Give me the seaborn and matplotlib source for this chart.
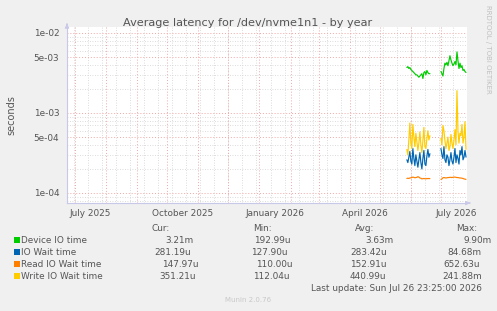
import pandas as pd
import matplotlib
matplotlib.use("Agg")
import matplotlib.pyplot as plt
from matplotlib.patches import Rectangle
from matplotlib.ticker import FixedLocator
import seaborn as sns

# ---------------- data ----------------
series_names = ["Device IO time", "IO Wait time", "Read IO Wait time", "Write IO Wait time"]
series_colors = ["#00cc00", "#0066b3", "#ff8000", "#ffcc00"]

seg1_start = "2026-05-28"
seg2_start = "2026-07-01"

# values in seconds
device_seg1 = [3.7e-3, 3.8e-3, 3.6e-3, 3.7e-3, 3.5e-3, 3.4e-3, 3.3e-3, 3.2e-3, 3.1e-3, 3.0e-3, 3.0e-3, 2.9e-3,
               2.8e-3, 2.9e-3, 3.0e-3, 3.1e-3, 2.7e-3, 3.2e-3, 3.3e-3, 3.0e-3, 3.4e-3, 3.2e-3, 3.1e-3, 3.1e-3]
device_seg2 = [3.3e-3, 3.1e-3, 2.9e-3, 3.6e-3, 4.2e-3, 4.0e-3, 4.3e-3, 3.9e-3, 4.5e-3, 5.2e-3, 4.6e-3, 4.2e-3, 3.9e-3,
               4.1e-3, 4.4e-3, 4.0e-3, 5.8e-3, 4.5e-3, 3.6e-3, 4.2e-3, 3.7e-3, 3.9e-3, 3.4e-3, 3.5e-3, 3.3e-3, 3.21e-3]

iowait_seg1 = [2.6e-4, 2.4e-4, 2.8e-4, 3.3e-4, 2.5e-4, 2.3e-4, 3.6e-4, 2.7e-4, 2.2e-4, 3.0e-4, 2.5e-4, 2.1e-4,
               2.6e-4, 3.2e-4, 2.4e-4, 2.0e-4, 2.7e-4, 3.4e-4, 2.3e-4, 2.2e-4, 2.9e-4, 3.5e-4, 2.8e-4, 3.1e-4]
iowait_seg2 = [3.6e-4, 3.0e-4, 2.7e-4, 3.8e-4, 2.6e-4, 2.4e-4, 3.0e-4, 2.8e-4, 2.2e-4, 2.6e-4, 3.2e-4, 2.5e-4, 2.3e-4,
               2.8e-4, 3.6e-4, 2.4e-4, 3.0e-4, 2.7e-4, 2.3e-4, 3.4e-4, 3.0e-4, 3.8e-4, 2.6e-4, 2.8e-4, 3.4e-4, 2.81e-4]

read_seg1 = [1.52e-4, 1.53e-4, 1.52e-4, 1.54e-4, 1.55e-4, 1.56e-4, 1.58e-4, 1.57e-4, 1.55e-4, 1.56e-4, 1.57e-4, 1.60e-4,
             1.58e-4, 1.54e-4, 1.53e-4, 1.50e-4, 1.51e-4, 1.52e-4, 1.51e-4, 1.50e-4, 1.52e-4, 1.51e-4, 1.52e-4, 1.51e-4]
read_seg2 = [1.48e-4, 1.50e-4, 1.55e-4, 1.56e-4, 1.55e-4, 1.54e-4, 1.55e-4, 1.56e-4, 1.56e-4, 1.57e-4, 1.57e-4, 1.56e-4,
             1.57e-4, 1.58e-4, 1.58e-4, 1.57e-4, 1.56e-4, 1.56e-4, 1.55e-4, 1.54e-4, 1.54e-4, 1.53e-4, 1.52e-4, 1.50e-4,
             1.49e-4, 1.48e-4]

write_seg1 = [3.5e-4, 3.0e-4, 4.6e-4, 7.5e-4, 4.2e-4, 3.6e-4, 7.2e-4, 5.0e-4, 3.8e-4, 5.6e-4, 4.4e-4, 3.4e-4,
              4.2e-4, 5.8e-4, 4.0e-4, 3.2e-4, 4.5e-4, 6.6e-4, 3.8e-4, 3.6e-4, 4.8e-4, 6.0e-4, 4.6e-4, 5.2e-4]
write_seg2 = [4.8e-4, 4.0e-4, 7.0e-4, 6.0e-4, 4.5e-4, 3.6e-4, 4.2e-4, 5.0e-4, 3.4e-4, 3.8e-4, 5.4e-4, 4.2e-4, 3.6e-4,
              4.6e-4, 6.2e-4, 4.0e-4, 1.9e-3, 6.0e-4, 4.2e-4, 5.6e-4, 5.2e-4, 7.2e-4, 4.2e-4, 5.0e-4, 7.8e-4, 3.51e-4]

cur_vals = ["3.21m", "281.19u", "147.97u", "351.21u"]
min_vals = ["192.99u", "127.90u", "110.00u", "112.04u"]
avg_vals = ["3.63m", "283.42u", "152.91u", "440.99u"]
max_vals = ["9.90m", "84.68m", "652.63u", "241.88m"]

ytick_vals = [1e-4, 5e-4, 1e-3, 5e-3, 1e-2]
ytick_labels = ["1e-04", "5e-04", "1e-03", "5e-03", "1e-02"]
xtick_dates = ["2025-07-16", "2025-10-16", "2026-01-16", "2026-04-16", "2026-07-16"]
xtick_labels = ["July 2025", "October 2025", "January 2026", "April 2026", "July 2026"]

# ---------------- build frame ----------------
rows = []
segments = [
    (device_seg1, device_seg2),
    (iowait_seg1, iowait_seg2),
    (read_seg1, read_seg2),
    (write_seg1, write_seg2),
]
for name, (s1, s2) in zip(series_names, segments):
    for seg_id, (start, vals) in enumerate([(seg1_start, s1), (seg2_start, s2)]):
        dates = pd.date_range(start, periods=len(vals), freq="D")
        for d, v in zip(dates, vals):
            rows.append({"date": d, "value": v, "series": name, "seg": seg_id})
df = pd.DataFrame(rows)

# ---------------- figure ----------------
sns.set_style("white")
plt.rcParams["font.family"] = ["DejaVu Sans"]

W, H = 497, 311
bg = "#f0f0f0"
txt = "#555555"
fig = plt.figure(figsize=(W / 100, H / 100), dpi=100, facecolor=bg)
L, R, T, B = 67, 467, 27, 203
ax = fig.add_axes([L / W, 1 - B / H, (R - L) / W, (B - T) / H])
ax.set_facecolor("white")

def px(x, y):
    return x / W, 1 - y / H

# grid
ax.set_yscale("log")
ax.set_ylim(10 ** -4.125, 10 ** -1.925)
ax.set_xlim(pd.Timestamp("2025-06-23"), pd.Timestamp("2026-07-27"))

minor_y = [m * 10 ** e for e in (-5, -4, -3, -2) for m in (2, 3, 4, 6, 7, 8, 9)]
ax.yaxis.set_major_locator(FixedLocator(ytick_vals))
ax.yaxis.set_minor_locator(FixedLocator(minor_y))
ax.set_yticklabels(ytick_labels)
ax.yaxis.grid(True, which="minor", color="#d0d0d0", linestyle=(0, (1, 2)), linewidth=0.6)
ax.yaxis.grid(True, which="major", color="#f0a8a8", linestyle=(0, (1, 2)), linewidth=0.7)

for d in pd.date_range("2025-06-30", "2026-07-27", freq="14D"):
    ax.axvline(d, color="#d0d0d0", linestyle=(0, (1, 2)), linewidth=0.6, zorder=0)
for d in pd.date_range("2025-07-01", "2026-07-27", freq="MS"):
    ax.axvline(d, color="#f0a8a8", linestyle=(0, (1, 2)), linewidth=0.7, zorder=0)

ax.set_xticks(pd.to_datetime(xtick_dates))
ax.set_xticklabels(xtick_labels)
ax.tick_params(axis="both", length=0, labelsize=6.4, colors=txt)
ax.tick_params(axis="x", pad=4.5)
ax.tick_params(axis="y", pad=5.5)

sns.lineplot(data=df, x="date", y="value", hue="series", units="seg", estimator=None,
             hue_order=series_names, palette=dict(zip(series_names, series_colors)),
             linewidth=0.85, legend=False, ax=ax)
ax.set_xlabel("")
ax.set_ylabel("")

for s in ["top", "right"]:
    ax.spines[s].set_visible(False)
axis_col = "#c8c8e8"
ax.spines["left"].set_color(axis_col)
ax.spines["bottom"].set_color(axis_col)
ax.spines["left"].set_linewidth(0.8)
ax.spines["bottom"].set_linewidth(0.8)
ax.annotate("", xy=(0, 1.035), xytext=(0, 1.0), xycoords="axes fraction",
            arrowprops=dict(arrowstyle="-|>", color=axis_col, lw=0.8, mutation_scale=6), annotation_clip=False)
ax.annotate("", xy=(1.015, 0), xytext=(1.0, 0), xycoords="axes fraction",
            arrowprops=dict(arrowstyle="-|>", color=axis_col, lw=0.8, mutation_scale=6), annotation_clip=False)

# title and labels
fig.text(*px(247.5, 25.5), "Average latency for /dev/nvme1n1 - by year", ha="center", va="baseline",
         fontsize=8.1, color=txt)
fig.text(*px(11, 115), "seconds", rotation=90, ha="center", va="center", fontsize=7, color=txt)
fig.text(*px(488, 5), "RRDTOOL / TOBI OETIKER", rotation=270, ha="center", va="top", fontsize=5,
         color="#c0c0c0")

# legend block
fs = 6.4
for xh, lab in zip([152, 253, 355, 456], ["Cur:", "Min:", "Avg:", "Max:"]):
    fig.text(*px(xh, 230.7), lab, ha="left", va="baseline", fontsize=fs, color=txt)

cur_x = [165, 154, 162, 159]
min_x = [254, 251, 256, 253]
avg_x = [365, 350, 350, 350]
max_x = [463, 447, 443, 442]
for i, name in enumerate(series_names):
    yb = 243 + 12 * i
    fig.patches.append(Rectangle(px(14, yb + 0), 6 / W, 6 / H, transform=fig.transFigure,
                                 facecolor=series_colors[i], edgecolor="none"))
    fig.text(*px(21, yb), name, ha="left", va="baseline", fontsize=fs, color=txt)
    fig.text(*px(cur_x[i], yb), cur_vals[i], ha="left", va="baseline", fontsize=fs, color=txt)
    fig.text(*px(min_x[i], yb), min_vals[i], ha="left", va="baseline", fontsize=fs, color=txt)
    fig.text(*px(avg_x[i], yb), avg_vals[i], ha="left", va="baseline", fontsize=fs, color=txt)
    fig.text(*px(max_x[i], yb), max_vals[i], ha="left", va="baseline", fontsize=fs, color=txt)

fig.text(*px(482, 291), "Last update: Sun Jul 26 23:25:00 2026", ha="right", va="baseline", fontsize=fs, color=txt)
fig.text(*px(248, 301.7), "Munin 2.0.76", ha="center", va="baseline", fontsize=5, color="#c8c8c8")

fig.savefig("out.png", dpi=100, facecolor=bg)
